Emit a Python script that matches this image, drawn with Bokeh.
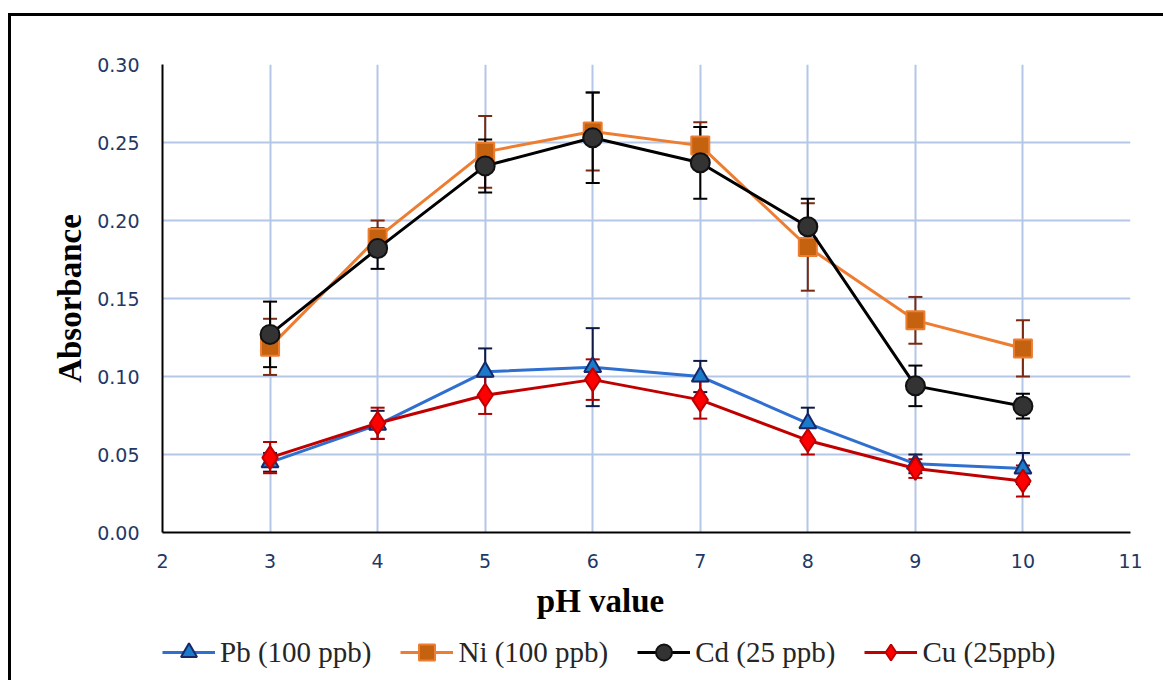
from bokeh.plotting import figure
from bokeh.layouts import column
from bokeh.models import (ColumnDataSource, Whisker, TeeHead, Legend, LegendItem,
                          FixedTicker, NumeralTickFormatter, Range1d, Label)
from bokeh.embed import file_html
from bokeh.resources import INLINE

ph = [3, 4, 5, 6, 7, 8, 9, 10]
pb = [0.045, 0.069, 0.103, 0.106, 0.100, 0.070, 0.044, 0.041]
pb_err = [0.006, 0.009, 0.015, 0.025, 0.010, 0.010, 0.006, 0.010]
ni = [0.119, 0.189, 0.244, 0.257, 0.248, 0.183, 0.136, 0.118]
ni_err = [0.018, 0.011, 0.023, 0.025, 0.015, 0.028, 0.015, 0.018]
cd = [0.127, 0.182, 0.235, 0.253, 0.237, 0.196, 0.094, 0.081]
cd_err = [0.021, 0.013, 0.017, 0.029, 0.023, 0.018, 0.013, 0.008]
cu = [0.048, 0.070, 0.088, 0.098, 0.085, 0.059, 0.041, 0.033]
cu_err = [0.010, 0.010, 0.012, 0.013, 0.012, 0.009, 0.006, 0.010]

x_ticks = [2, 3, 4, 5, 6, 7, 8, 9, 10, 11]
y_ticks = [0.0, 0.05, 0.10, 0.15, 0.20, 0.25, 0.30]

series = [
    dict(name="Pb (100 ppb)", y=pb, err=pb_err, line="#2F6FCF", marker="triangle",
         fill="#1B7BCB", outline="#16286A", size=17, ecolor="#0E1A45"),
    dict(name="Ni (100 ppb)", y=ni, err=ni_err, line="#ED7D31", marker="square",
         fill="#C5620F", outline="#ED7D31", size=18, ecolor="#7A2A12"),
    dict(name="Cd (25 ppb)", y=cd, err=cd_err, line="#000000", marker="circle",
         fill="#333333", outline="#111111", size=19, ecolor="#000000"),
    dict(name="Cu (25ppb)", y=cu, err=cu_err, line="#C00000", marker="diamond",
         fill="#FF0000", outline="#C00000", size=23, ecolor="#B00000"),
]

# main chart
p = figure(width=1152, height=559, output_backend="svg", toolbar_location=None,
           x_range=Range1d(2, 11), y_range=Range1d(0, 0.30),
           min_border_left=151, min_border_right=33, min_border_top=48,
           min_border_bottom=43)
p.outline_line_color = None
p.background_fill_color = "white"

for ax, ticks in ((p.xaxis[0], x_ticks), (p.yaxis[0], y_ticks)):
    ax.ticker = FixedTicker(ticks=ticks)
    ax.major_tick_line_color = None
    ax.minor_tick_line_color = None
    ax.axis_line_color = "black"
    ax.axis_line_width = 2
    ax.major_label_text_font = "DejaVu Sans"
    ax.major_label_text_font_size = "19px"
    ax.major_label_text_color = "#1F3864"
    ax.axis_label_text_font = "Liberation Serif"
    ax.axis_label_text_font_style = "bold"
    ax.axis_label_text_font_size = "33px"
    ax.axis_label_text_color = "black"

p.yaxis[0].formatter = NumeralTickFormatter(format="0.00")
p.yaxis.axis_label = "Absorbance"
p.xaxis.major_label_standoff = 15
p.yaxis.major_label_standoff = 17
p.yaxis.axis_label_standoff = 6

p.grid.grid_line_color = "#B4C7E7"
p.grid.grid_line_width = 2
p.xgrid.ticker = FixedTicker(ticks=x_ticks)
p.ygrid.ticker = FixedTicker(ticks=y_ticks)

# strip below: x-axis title and legend (its frame is aligned with the chart's frame)
lg = figure(width=1152, height=105, output_backend="svg", toolbar_location=None,
            x_range=Range1d(-100, -99), y_range=Range1d(-100, -99),
            x_axis_location=None, y_axis_location=None,
            min_border_left=151, min_border_right=33, min_border_top=0, min_border_bottom=0)
lg.outline_line_color = None
lg.grid.visible = False

lg.add_layout(Label(x=438, y=80, x_units="screen", y_units="screen", text="pH value",
                    text_align="center", text_baseline="middle",
                    text_font="Liberation Serif", text_font_style="bold",
                    text_font_size="33px", text_color="black"))

items = []
for s in series:
    upper = [v + e for v, e in zip(s["y"], s["err"])]
    lower = [v - e for v, e in zip(s["y"], s["err"])]
    src = ColumnDataSource(dict(x=ph, y=s["y"], upper=upper, lower=lower))
    w = Whisker(base="x", upper="upper", lower="lower", source=src,
                line_color=s["ecolor"], line_width=2,
                upper_head=TeeHead(size=14, line_color=s["ecolor"], line_width=2),
                lower_head=TeeHead(size=14, line_color=s["ecolor"], line_width=2))
    p.add_layout(w)
    p.line("x", "y", source=src, line_color=s["line"], line_width=3)
    p.scatter("x", "y", source=src, marker=s["marker"], size=s["size"],
              fill_color=s["fill"], line_color=s["outline"], line_width=2)
    # legend swatches: same data, outside this strip's visible range
    lr = lg.line("x", "y", source=src, line_color=s["line"], line_width=3)
    sr = lg.scatter("x", "y", source=src, marker=s["marker"], size=s["size"],
                    fill_color=s["fill"], line_color=s["outline"], line_width=2)
    items.append(LegendItem(label=s["name"], renderers=[lr, sr]))

legend = Legend(items=items, orientation="horizontal", location=(0, 8),
                border_line_color=None, background_fill_alpha=0,
                label_text_font="Liberation Serif", label_text_font_size="29px",
                label_text_color="#262626", glyph_width=53, glyph_height=40,
                label_standoff=5, spacing=29, padding=0, margin=0)
lg.add_layout(legend, "center")

page = column(p, lg, spacing=0,
              styles={"margin-left": "8px", "margin-top": "13px",
                      "border-left": "3px solid #000", "border-top": "3px solid #000"})

open("out.html", "w").write(file_html(page, INLINE))
